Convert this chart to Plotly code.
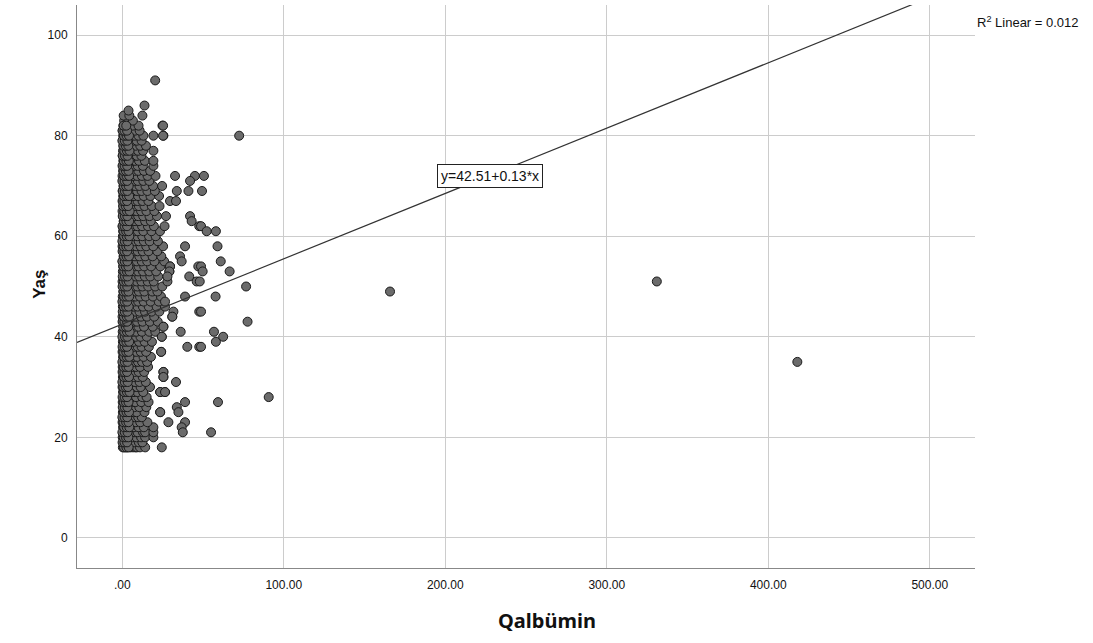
import plotly.graph_objects as go

# ---- data ----
# dense column near Qalbümin ~0-25: x values listed per age (Yaş)
core_ages = list(range(18, 87)) + [91]
core_x = [
    [0.4, 1.8, 3.3, 5.1, 6.7, 8.2, 9.1, 11.0, 14.2, 24.5],
    [0.7, 2.2, 3.9, 5.6, 7.4, 10.3, 12.5],
    [0.3, 1.5, 2.9, 4.6, 6.3, 8.8, 11.7, 14.2, 19.3],
    [0.9, 2.6, 4.1, 6.0, 7.9, 9.5, 12.9, 14.2, 19.3],
    [0.5, 2.0, 3.6, 5.4, 7.2, 10.1, 13.4, 19.3],
    [0.2, 1.7, 3.1, 4.9, 6.6, 8.4, 11.2, 15.6],
    [0.6, 2.4, 4.3, 5.9, 7.7, 9.9, 12.1],
    [0.4, 1.9, 3.4, 5.3, 7.0, 8.9, 13.8, 23.5],
    [0.8, 2.3, 4.0, 5.7, 7.5, 10.6, 14.9],
    [0.3, 1.6, 3.0, 4.7, 6.4, 8.1, 11.8, 16.3],
    [0.7, 2.5, 4.4, 6.1, 8.6, 12.4, 15.1],
    [0.5, 2.1, 3.7, 5.5, 7.3, 9.4, 13.0, 23.5, 26.5],
    [0.2, 1.8, 3.2, 5.0, 6.9, 9.0, 11.4, 17.2],
    [0.9, 2.7, 4.2, 6.2, 8.0, 10.8, 14.6],
    [0.4, 2.0, 3.5, 5.2, 7.1, 9.7, 12.7, 25.5],
    [0.6, 2.2, 3.9, 5.8, 7.6, 10.2, 13.6, 25.5],
    [0.3, 1.7, 3.3, 4.9, 6.5, 8.5, 11.1, 16.0],
    [0.8, 2.4, 4.1, 6.0, 7.8, 9.8, 12.3, 15.4],
    [0.5, 1.9, 3.6, 5.4, 7.4, 9.3, 13.2, 17.8],
    [0.2, 1.6, 3.1, 4.8, 6.6, 8.7, 11.5, 14.8, 24.1],
    [0.7, 2.3, 4.0, 5.6, 7.2, 9.6, 12.0, 16.5],
    [0.4, 2.1, 3.8, 5.5, 7.0, 10.4, 13.9, 18.4],
    [0.6, 2.6, 4.3, 6.3, 8.3, 11.3, 15.2, 24.5],
    [0.3, 1.8, 3.4, 5.1, 6.8, 8.8, 12.2, 16.8, 20.5],
    [0.9, 2.5, 4.2, 5.9, 7.7, 10.0, 13.5, 18.9, 25.5],
    [0.5, 2.0, 3.7, 5.3, 7.3, 9.2, 12.6, 17.1, 22.0],
    [0.2, 1.7, 3.2, 5.0, 6.7, 8.6, 11.6, 15.3, 19.8, 31.0],
    [0.8, 2.4, 4.0, 5.8, 7.9, 10.7, 14.1, 18.2, 23.0],
    [0.4, 1.9, 3.5, 5.2, 7.1, 9.5, 12.8, 16.4, 21.3, 26.5],
    [0.6, 2.2, 3.9, 5.7, 7.5, 9.9, 13.3, 17.6, 22.6],
    [0.3, 1.6, 3.0, 4.6, 6.4, 8.2, 11.0, 14.5, 19.0, 24.0],
    [0.7, 2.3, 4.1, 6.1, 8.0, 10.3, 13.7, 18.6, 21.8],
    [0.5, 2.0, 3.6, 5.4, 7.2, 9.4, 12.5, 16.1, 20.4, 24.8],
    [0.2, 1.8, 3.3, 5.0, 6.9, 9.0, 11.9, 15.8, 19.5, 28.0],
    [0.9, 2.6, 4.4, 6.2, 8.1, 10.5, 14.0, 17.4, 22.3],
    [0.4, 2.1, 3.8, 5.6, 7.6, 9.8, 12.9, 16.7, 21.0, 29.2],
    [0.6, 2.2, 4.0, 5.9, 7.8, 10.1, 13.6, 17.9, 23.6, 29.6],
    [0.3, 1.9, 3.4, 5.3, 7.0, 9.1, 12.1, 15.5, 20.0, 26.0],
    [0.8, 2.5, 4.2, 6.0, 7.9, 10.6, 14.3, 18.8, 24.2],
    [0.5, 2.0, 3.7, 5.5, 7.4, 9.6, 12.7, 16.3, 21.7],
    [0.2, 1.7, 3.1, 4.8, 6.6, 8.7, 11.4, 14.9, 19.2, 25.3],
    [0.7, 2.4, 4.1, 5.8, 7.7, 10.2, 13.4, 17.0, 22.1],
    [0.4, 1.8, 3.5, 5.2, 7.1, 9.3, 12.4, 16.6, 20.7],
    [0.6, 2.3, 3.9, 5.7, 7.5, 9.7, 13.1, 18.1, 23.4],
    [0.3, 2.0, 3.6, 5.4, 7.2, 9.4, 12.3, 15.9, 19.6, 26.2],
    [0.9, 2.6, 4.3, 6.1, 8.0, 10.4, 14.2, 17.7],
    [0.5, 2.1, 3.8, 5.6, 7.6, 9.9, 13.0, 16.9, 21.5, 27.1],
    [0.2, 1.6, 3.2, 4.9, 6.8, 8.9, 11.7, 15.0, 19.9],
    [0.7, 2.4, 4.1, 5.9, 7.8, 10.3, 13.8, 18.3, 23.1],
    [0.4, 1.9, 3.5, 5.3, 7.3, 9.5, 12.6, 16.2],
    [0.6, 2.2, 3.9, 5.7, 7.4, 9.8, 13.3, 17.5, 22.8],
    [0.3, 1.8, 3.3, 5.1, 6.9, 9.2, 12.0, 15.6, 20.2],
    [0.8, 2.5, 4.2, 6.0, 8.1, 10.7, 14.4, 19.1, 24.7],
    [0.5, 2.0, 3.7, 5.5, 7.5, 9.7, 13.1, 16.8],
    [0.2, 1.7, 3.4, 5.2, 7.0, 9.3, 12.2, 15.7, 20.6],
    [0.6, 2.3, 4.0, 5.8, 7.7, 10.0, 13.5, 17.3],
    [0.4, 2.1, 3.6, 5.4, 7.3, 9.6, 12.8, 19.3],
    [0.7, 2.4, 4.1, 5.9, 7.9, 10.4, 14.0, 19.3],
    [0.3, 1.9, 3.5, 5.3, 7.1, 9.1, 11.9],
    [0.5, 2.2, 3.8, 5.6, 7.4, 9.8, 12.9, 19.3],
    [0.8, 2.6, 4.3, 6.2, 8.3, 11.2, 14.7],
    [0.4, 1.8, 3.4, 5.1, 6.9, 9.0, 12.0],
    [0.6, 2.3, 3.9, 5.7, 7.6, 10.1, 13.1, 19.3, 25.5],
    [0.3, 2.0, 3.6, 5.5, 7.8, 10.8],
    [0.7, 2.9, 4.6, 6.5, 10.1, 24.9],
    [1.2, 3.8, 6.6],
    [0.9, 4.4, 12.5],
    [3.9],
    [13.8],
    [20.4],
]

# additional overlapping cases in the darkest part of the column (ages 18-82)
extra_ages = list(range(18, 83))
extra_x = [
    [1.1, 2.6, 4.0], [0.2, 1.4, 3.0], [0.9, 2.3, 3.8], [0.1, 1.6, 3.3],
    [1.2, 2.8, 4.4], [0.8, 2.4, 3.9], [0.1, 1.5, 3.1], [1.0, 2.7, 4.2],
    [0.3, 1.6, 3.2], [0.9, 2.3, 3.9], [0.2, 1.5, 3.0], [1.3, 2.9, 4.5],
    [0.7, 2.2, 3.6], [0.1, 1.6, 3.4], [1.1, 2.7, 4.2], [0.2, 1.4, 3.0],
    [0.9, 2.5, 4.0], [0.1, 1.6, 3.3], [1.2, 2.8, 4.4], [0.8, 2.5, 4.0],
    [0.2, 1.5, 3.0], [1.0, 2.6, 4.3], [0.1, 1.7, 3.2], [1.3, 2.9, 4.6],
    [0.6, 2.2, 3.7], [0.2, 1.4, 3.0], [1.1, 2.8, 4.3], [0.3, 1.6, 3.2],
    [0.9, 2.4, 4.0], [0.1, 1.5, 3.1], [1.2, 2.7, 4.3], [0.8, 2.3, 3.9],
    [0.2, 1.5, 3.1], [1.0, 2.6, 4.1], [0.3, 1.7, 3.3], [1.3, 2.9, 4.5],
    [0.7, 2.2, 3.8], [0.1, 1.6, 3.2], [1.1, 2.7, 4.2], [0.2, 1.4, 3.0],
    [0.9, 2.5, 4.1], [0.1, 1.6, 3.3], [1.2, 2.8, 4.4], [0.8, 2.4, 3.9],
    [0.2, 1.5, 3.0], [1.0, 2.6, 4.3], [0.3, 1.7, 3.2], [1.3, 2.9, 4.6],
    [0.6, 2.2, 3.7], [0.2, 1.4, 3.0], [1.1, 2.8, 4.3], [0.3, 1.6, 3.2],
    [0.9, 2.4, 4.0], [0.1, 1.5, 3.1], [1.2, 2.7, 4.3], [0.8, 2.3, 3.9],
    [0.2, 1.5, 3.1], [1.0, 2.6, 4.1], [0.3, 1.7, 3.3], [1.3, 2.9, 4.5],
    [0.7, 2.2, 3.8], [0.1, 1.6, 3.2], [1.1, 2.7, 4.2], [0.2, 1.4, 3.0],
    [0.9, 2.5],
]

# scattered points outside the dense column
sparse_x = [72.4, 50.6, 45.0, 42.0, 32.7, 49.4, 41.0, 33.8, 29.6, 33.3,
            42.0, 43.0, 47.7, 48.8, 52.3, 58.0, 38.9, 59.0, 35.8, 36.8,
            61.0, 29.6, 47.1, 48.8, 29.2, 49.8, 66.5, 41.5, 46.1, 48.0,
            28.0, 76.7, 38.9, 57.8, 47.7, 48.8, 26.5, 31.7, 31.0, 77.6,
            25.5, 36.2, 56.8, 62.5, 24.5, 40.3, 47.7, 58.0, 48.8, 24.1,
            25.5, 25.5, 33.3, 23.5, 26.5, 90.7, 38.9, 59.3, 33.8, 34.8,
            23.5, 28.6, 38.9, 36.8, 55.0, 37.5, 25.3, 25.3, 165.8, 331.0, 418.0]
sparse_y = [80, 72, 72, 71, 72, 69, 69, 69, 67, 67,
            64, 63, 62, 62, 61, 61, 58, 58, 56, 55,
            55, 54, 54, 54, 53, 53, 53, 52, 51, 51,
            52, 50, 48, 48, 45, 45, 47, 45, 44, 43,
            42, 41, 41, 40, 40, 38, 38, 39, 38, 37,
            33, 32, 31, 29, 29, 28, 27, 27, 26, 25,
            25, 23, 23, 22, 21, 21, 82, 80, 49, 51, 35]

# fit line (SPSS)
intercept = 42.51
slope = 0.13
r2 = 0.012

x_ticks = [0, 100, 200, 300, 400, 500]
x_tick_labels = [".00", "100.00", "200.00", "300.00", "400.00", "500.00"]
y_ticks = [0, 20, 40, 60, 80, 100]

# ---- build ----
pts_x, pts_y = [], []
for age, xs in zip(core_ages, core_x):
    for v in xs:
        pts_x.append(v)
        pts_y.append(age)
for age, xs in zip(extra_ages, extra_x):
    for v in xs:
        pts_x.append(v)
        pts_y.append(age)
pts_x += sparse_x
pts_y += sparse_y

x_range = [-28, 528]
y_range = [-6, 106]

fig = go.Figure()
fig.add_trace(go.Scatter(
    x=pts_x, y=pts_y, mode="markers",
    marker=dict(size=9, color="#6b6b6b", line=dict(color="#1a1a1a", width=1)),
    showlegend=False, hoverinfo="x+y",
))
fig.add_trace(go.Scatter(
    x=x_range, y=[intercept + slope * v for v in x_range], mode="lines",
    line=dict(color="#333333", width=1.2), showlegend=False, hoverinfo="skip",
))

txt_font = "Liberation Sans, Arial"
fig.add_annotation(
    x=228, y=72, xref="x", yref="y", showarrow=False,
    text=f"y={intercept:.2f}+{slope:.2f}*x",
    font=dict(family=txt_font, size=14, color="#111111"),
    bgcolor="white", bordercolor="#222222", borderwidth=1, borderpad=3,
)
fig.add_annotation(
    x=1.0, y=0.97, xref="paper", yref="paper", xanchor="left", yanchor="middle",
    showarrow=False,
    text=f"R<sup>2</sup> Linear = {r2:.3f}",
    font=dict(family=txt_font, size=13, color="#111111"),
)
# axis titles
fig.add_annotation(
    x=-0.0412, y=0.503, xref="paper", yref="paper", xanchor="center", yanchor="middle",
    showarrow=False, textangle=-90, text="<b>Yaş</b>",
    font=dict(family=txt_font, size=17, color="#111111"),
)
fig.add_annotation(
    x=0.523, y=-0.094, xref="paper", yref="paper", xanchor="center", yanchor="middle",
    showarrow=False, text="<b>Qalbümin</b>",
    font=dict(family="Noto Sans, Open Sans", size=20, color="#111111"),
)

axis_font = dict(family=txt_font, size=12, color="#111111")
fig.update_xaxes(
    range=x_range, tickvals=x_ticks, ticktext=x_tick_labels,
    showgrid=True, gridcolor="#cccccc", gridwidth=1, zeroline=False,
    showline=True, linecolor="#888888", linewidth=1,
    ticks="outside", ticklen=6, tickcolor="rgba(0,0,0,0)",
    tickfont=axis_font,
)
fig.update_yaxes(
    range=y_range, tickvals=y_ticks,
    showgrid=True, gridcolor="#cccccc", gridwidth=1, zeroline=False,
    showline=True, linecolor="#888888", linewidth=1,
    ticks="outside", ticklen=6, tickcolor="rgba(0,0,0,0)",
    tickfont=axis_font,
)
fig.update_layout(
    width=1093, height=643,
    margin=dict(l=77, r=118, t=5, b=75),
    plot_bgcolor="white", paper_bgcolor="white",
)

fig.write_html("out.html", config={"displayModeBar": False},
               post_script="document.body.style.margin='0px';")
